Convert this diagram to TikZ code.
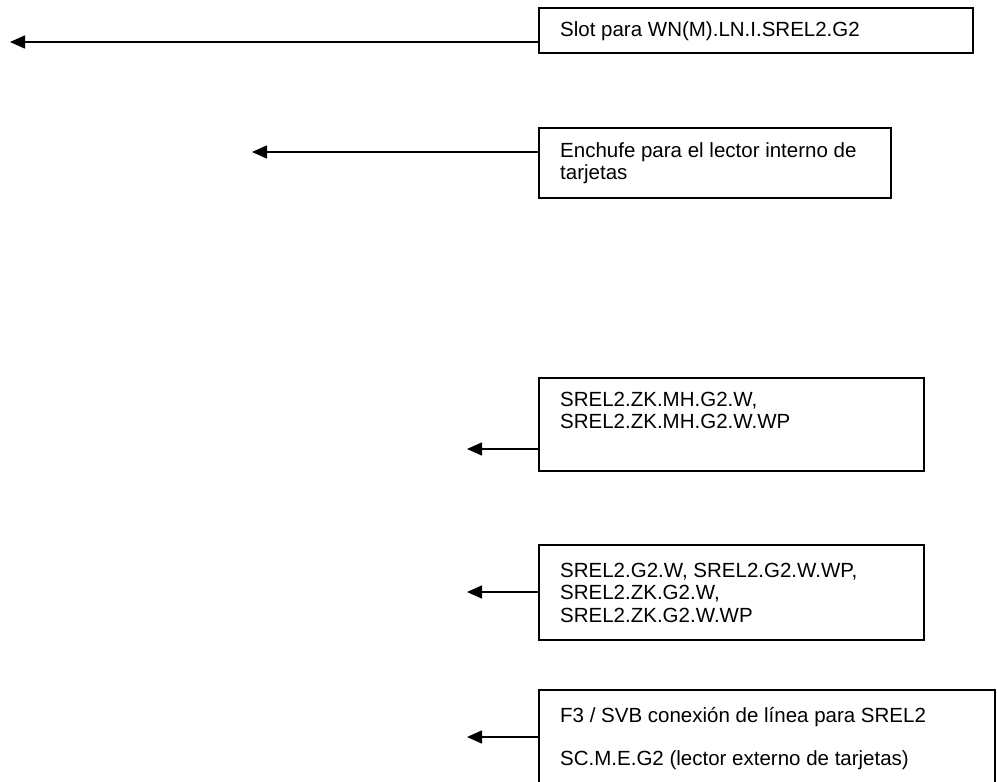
\documentclass[tikz,border=0pt]{standalone}
\usepackage{fontspec}
\setmainfont{Liberation Sans}
\usetikzlibrary{arrows.meta}

\begin{document}
\begin{tikzpicture}[x=1pt, y=-1pt,
    box/.style={draw, line width=1.6pt, anchor=north west, inner sep=0pt},
    txt/.style={anchor=north west, inner sep=0pt, align=left,
                font=\fontsize{20.5}{22.5}\selectfont},
    link/.style={line width=1.6pt, -{Triangle[length=15pt, width=13pt]}}]
    \useasboundingbox (0,0) rectangle (997,782);
    \clip (0,0) rectangle (997,782);

    \node[box, minimum width=434pt, minimum height=45pt] (s1) at (538,7) {};
    \node[box, minimum width=352pt, minimum height=70pt] (s2) at (538,127) {};
    \node[box, minimum width=385pt, minimum height=93pt] (s3) at (538,377) {};
    \node[box, minimum width=385pt, minimum height=95pt] (s4) at (538,544) {};
    \node[box, minimum width=456pt, minimum height=110pt] (s5) at (538,689) {};

    \node[txt] (l1) at (560,20.25) {\strut Slot para WN(M).LN.I.SREL2.G2};
    \node[txt] (l2) at (560,141.25) {\strut Enchufe para el lector interno de\\tarjetas};
    \node[txt] (l3) at (560,390.25) {\strut SREL2.ZK.MH.G2.W,\\SREL2.ZK.MH.G2.W.WP};
    \node[txt] (l4) at (560,561.25) {\strut SREL2.G2.W, SREL2.G2.W.WP,\\SREL2.ZK.G2.W,\\SREL2.ZK.G2.W.WP};
    \node[txt] (l5) at (560,706.25) {\strut F3 / SVB conexión de línea para SREL2\\[20.5pt]SC.M.E.G2 (lector externo de tarjetas)};

    \coordinate (e1) at (10,42);
    \coordinate (e2) at (252,152);
    \coordinate (e3) at (467,449);
    \coordinate (e4) at (467,592);
    \coordinate (e5) at (467,737);
    \foreach \i in {1,...,5}
      \draw[link] (s\i.west |- e\i) -- (e\i);
\end{tikzpicture}
\end{document}
